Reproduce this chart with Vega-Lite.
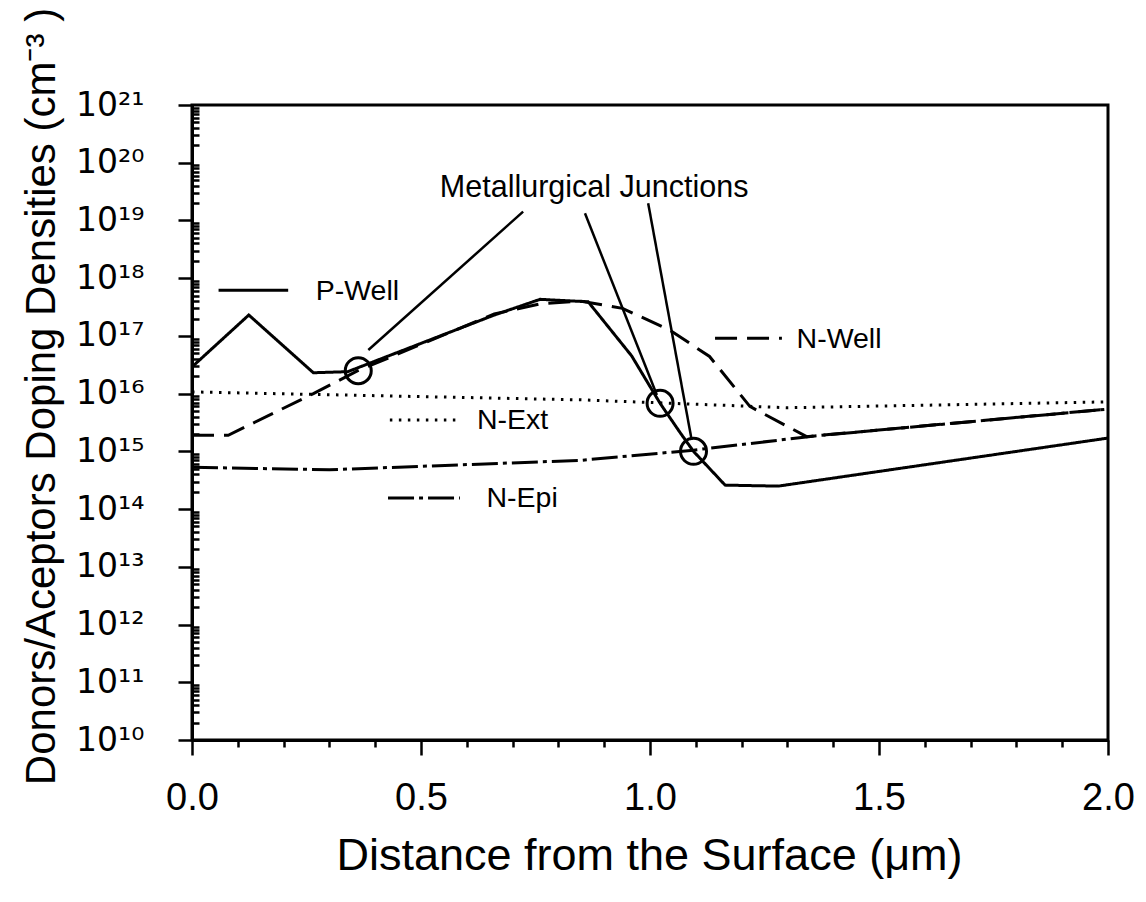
{
  "$schema": "https://vega.github.io/schema/vega-lite/v6.json",
  "width": 916,
  "height": 635,
  "autosize": {"type": "none"},
  "padding": {"left": 192, "top": 105, "right": 38, "bottom": 162},
  "background": "white",
  "config": {
    "font": "Liberation Sans",
    "view": {"stroke": "black", "strokeWidth": 3},
    "axis": {"grid": false, "domainColor": "black", "tickColor": "black", "labelColor": "black", "titleColor": "black", "domainWidth": 3, "tickWidth": 2.5, "labelFont": "Liberation Sans", "titleFont": "Liberation Sans", "titleFontWeight": "normal"}
  },
  "datasets": {
    "curves": [
      {"s": "P-Well", "x": 0, "y": 2.9e16},
      {"s": "P-Well", "x": 0.124, "y": 2.3e17},
      {"s": "P-Well", "x": 0.265, "y": 2.3e16},
      {"s": "P-Well", "x": 0.34, "y": 2.4e16},
      {"s": "P-Well", "x": 0.66, "y": 2.3e17},
      {"s": "P-Well", "x": 0.76, "y": 4.3e17},
      {"s": "P-Well", "x": 0.865, "y": 3.9e17},
      {"s": "P-Well", "x": 0.96, "y": 4.5e16},
      {"s": "P-Well", "x": 1.022, "y": 6.8e15},
      {"s": "P-Well", "x": 1.066, "y": 2.1e15},
      {"s": "P-Well", "x": 1.095, "y": 1.0e15},
      {"s": "P-Well", "x": 1.164, "y": 2.6e14},
      {"s": "P-Well", "x": 1.28, "y": 2.5e14},
      {"s": "P-Well", "x": 2.0, "y": 1.7e15},
      {"s": "N-Well", "x": 0, "y": 1.9e15},
      {"s": "N-Well", "x": 0.079, "y": 1.9e15},
      {"s": "N-Well", "x": 0.265, "y": 1.0e16},
      {"s": "N-Well", "x": 0.362, "y": 2.5e16},
      {"s": "N-Well", "x": 0.66, "y": 2.4e17},
      {"s": "N-Well", "x": 0.76, "y": 3.6e17},
      {"s": "N-Well", "x": 0.85, "y": 4.0e17},
      {"s": "N-Well", "x": 0.94, "y": 3.0e17},
      {"s": "N-Well", "x": 1.044, "y": 1.25e17},
      {"s": "N-Well", "x": 1.13, "y": 4.4e16},
      {"s": "N-Well", "x": 1.218, "y": 6.0e15},
      {"s": "N-Well", "x": 1.342, "y": 1.8e15},
      {"s": "N-Well", "x": 2.0, "y": 5.4e15},
      {"s": "N-Ext", "x": 0, "y": 1.07e16},
      {"s": "N-Ext", "x": 0.85, "y": 7.8e15},
      {"s": "N-Ext", "x": 1.3, "y": 5.7e15},
      {"s": "N-Ext", "x": 2.0, "y": 7.2e15},
      {"s": "N-Epi", "x": 0, "y": 5.3e14},
      {"s": "N-Epi", "x": 0.3, "y": 4.8e14},
      {"s": "N-Epi", "x": 0.85, "y": 7.0e14},
      {"s": "N-Epi", "x": 1.095, "y": 1.05e15},
      {"s": "N-Epi", "x": 1.36, "y": 1.85e15},
      {"s": "N-Epi", "x": 2.0, "y": 5.4e15}
    ],
    "keys": [
      {"s": "P-Well", "x": 0.058, "x2": 0.21, "y": 6.2e17},
      {"s": "N-Well", "x": 1.142, "x2": 1.288, "y": 9.1e16},
      {"s": "N-Ext", "x": 0.432, "x2": 0.578, "y": 3.5e15},
      {"s": "N-Epi", "x": 0.428, "x2": 0.585, "y": 1.55e14}
    ],
    "keyLabels": [
      {"t": "P-Well", "x": 0.27, "y": 6.0e17},
      {"t": "N-Well", "x": 1.32, "y": 9.0e16},
      {"t": "N-Ext", "x": 0.622, "y": 3.5e15},
      {"t": "N-Epi", "x": 0.643, "y": 1.55e14}
    ],
    "junctions": [
      {"x": 0.363, "y": 2.5e16},
      {"x": 1.022, "y": 6.8e15},
      {"x": 1.095, "y": 1.0e15}
    ],
    "leaders": [
      {"x": 0.385, "y": 5.7e16, "x2": 0.723, "y2": 1.42e19},
      {"x": 0.858, "y": 1.33e19, "x2": 1.015, "y2": 9.5e15},
      {"x": 0.996, "y": 1.98e19, "x2": 1.091, "y2": 1.57e15}
    ],
    "notes": [
      {"t": "Metallurgical Junctions", "x": 0.878, "y": 3.6e19}
    ]
  },
  "encoding": {
    "x": {
      "field": "x", "type": "quantitative",
      "scale": {"domain": [0, 2], "nice": false, "zero": false},
      "axis": {
        "values": [0, 0.1, 0.2, 0.3, 0.4, 0.5, 0.6, 0.7, 0.8, 0.9, 1.0, 1.1, 1.2, 1.3, 1.4, 1.5, 1.6, 1.7, 1.8, 1.9, 2.0],
        "labelExpr": "round(datum.value*10)%5==0 ? format(datum.value, '.1f') : ''",
        "tickSize": {"condition": {"test": "round(datum.value*10)%5==0", "value": 15}, "value": 7},
        "labelFontSize": 38,
        "labelPadding": 24,
        "labelOverlap": false,
        "labelFlush": false,
        "title": "Distance from the Surface (μm)",
        "titleFontSize": 45,
        "titleX": 457,
        "titleY": 115,
        "titleBaseline": "middle",
        "titleAnchor": null
      }
    },
    "y": {
      "field": "y", "type": "quantitative",
      "scale": {"type": "log", "domain": [1e10, 1e21], "nice": false},
      "axis": {
        "values": [1e10,2e10,3e10,4e10,5e10,6e10,7e10,8e10,9e10,1e11,2e11,3e11,4e11,5e11,6e11,7e11,8e11,9e11,1e12,2e12,3e12,4e12,5e12,6e12,7e12,8e12,9e12,1e13,2e13,3e13,4e13,5e13,6e13,7e13,8e13,9e13,1e14,2e14,3e14,4e14,5e14,6e14,7e14,8e14,9e14,1e15,2e15,3e15,4e15,5e15,6e15,7e15,8e15,9e15,1e16,2e16,3e16,4e16,5e16,6e16,7e16,8e16,9e16,1e17,2e17,3e17,4e17,5e17,6e17,7e17,8e17,9e17,1e18,2e18,3e18,4e18,5e18,6e18,7e18,8e18,9e18,1e19,2e19,3e19,4e19,5e19,6e19,7e19,8e19,9e19,1e20,2e20,3e20,4e20,5e20,6e20,7e20,8e20,9e20,1e21],
        "labelExpr": "abs(log(datum.value)/LN10 - round(log(datum.value)/LN10)) < 0.001 ? '10' + ['⁰','¹','²','³','⁴','⁵','⁶','⁷','⁸','⁹'][floor(round(log(datum.value)/LN10)/10)] + ['⁰','¹','²','³','⁴','⁵','⁶','⁷','⁸','⁹'][round(log(datum.value)/LN10)%10] : ''",
        "tickSize": {"condition": {"test": "abs(log(datum.value)/LN10 - round(log(datum.value)/LN10)) < 0.001", "value": 14}, "value": -7},
        "labelFont": "DejaVu Sans",
        "labelFontSize": 33,
        "labelPadding": 34,
        "labelOverlap": false,
        "labelFlush": false,
        "labelBaseline": "middle",
        "title": "Donors/Aceptors Doping Densities (cm⁻³ )",
        "titleFontSize": 42,
        "titleAngle": -90,
        "titleX": -151,
        "titleY": 291,
        "titleBaseline": "middle",
        "titleAlign": "center",
        "titleAnchor": null
      }
    }
  },
  "layer": [
    {
      "data": {"name": "curves"},
      "mark": {"type": "line", "color": "black", "strokeWidth": 3},
      "encoding": {
        "detail": {"field": "s"},
        "order": {"field": "x", "type": "quantitative"},
        "strokeDash": {"field": "s", "type": "nominal", "legend": null,
          "scale": {"domain": ["P-Well", "N-Well", "N-Ext", "N-Epi"], "range": [[1, 0], [22, 10], [2.5, 6.5], [26, 5, 4, 5]]}}
      }
    },
    {
      "data": {"name": "keys"},
      "mark": {"type": "rule", "color": "black", "strokeWidth": 3},
      "encoding": {
        "x2": {"field": "x2"},
        "strokeDash": {"field": "s", "type": "nominal", "legend": null}
      }
    },
    {
      "data": {"name": "keyLabels"},
      "mark": {"type": "text", "align": "left", "baseline": "middle", "fontSize": 28.5, "color": "black"},
      "encoding": {"text": {"field": "t"}}
    },
    {
      "data": {"name": "leaders"},
      "mark": {"type": "rule", "color": "black", "strokeWidth": 2.5},
      "encoding": {"x2": {"field": "x2"}, "y2": {"field": "y2"}}
    },
    {
      "data": {"name": "junctions"},
      "mark": {"type": "point", "shape": "circle", "filled": false, "size": 676, "stroke": "black", "strokeWidth": 3, "opacity": 1}
    },
    {
      "data": {"name": "notes"},
      "mark": {"type": "text", "align": "center", "baseline": "middle", "fontSize": 30.5, "color": "black"},
      "encoding": {"text": {"field": "t"}}
    }
  ]
}
